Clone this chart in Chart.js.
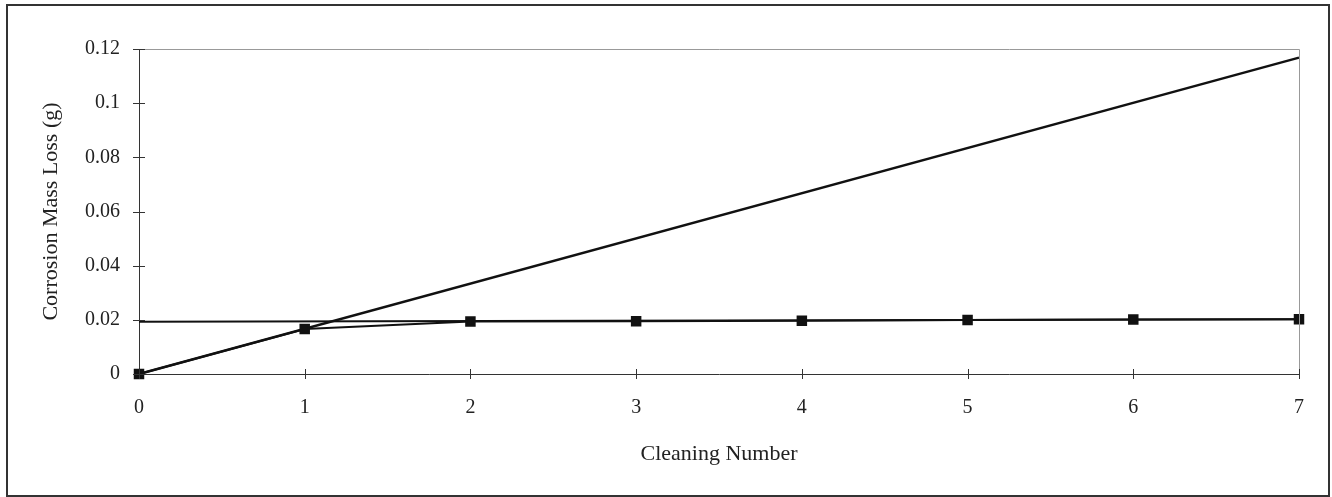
<!DOCTYPE html>
<html>
<head>
<meta charset="utf-8">
<script src="https://cdn.jsdelivr.net/npm/chart.js@4"></script>
<style>
  body { margin: 0; background: #fff; }
  #wrap { width: 1332px; height: 497px; }
</style>
</head>
<body>
<div id="wrap"><canvas id="myGraph" width="1332" height="497"></canvas></div>
<script>
const cleanings = [0, 1, 2, 3, 4, 5, 6, 7];
const massLoss = [0, 0.0166, 0.0194, 0.0195, 0.0197, 0.0199, 0.0201, 0.0202];
const flatX = [0, 7];
const flatY = [0.0193, 0.0202];
const trendX = [0, 7];
const trendY = [0, 0.1168];

const ctx = document.getElementById('myGraph');

const toPts = (xs, ys) => xs.map((x, i) => ({ x: x, y: ys[i] }));

// outer frame, plot box and ticks crossing the axes
const framePlugin = {
  id: 'frame',
  beforeDraw(chart) {
    const c = chart.ctx;
    c.save();
    c.fillStyle = '#fff';
    c.fillRect(0, 0, chart.width, chart.height);
    c.strokeStyle = '#333';
    c.lineWidth = 2;
    c.strokeRect(7, 5, 1322, 491);
    c.restore();
  },
  afterDatasetsDraw(chart) {
    const c = chart.ctx;
    const a = chart.chartArea;
    const xs = chart.scales.x, ys = chart.scales.y;
    c.save();
    c.strokeStyle = '#999';
    c.lineWidth = 1;
    c.beginPath();
    c.moveTo(a.left, a.top + 0.5);
    c.lineTo(a.right + 0.5, a.top + 0.5);
    c.lineTo(a.right + 0.5, a.bottom);
    c.stroke();
    c.strokeStyle = '#333';
    c.beginPath();
    ys.ticks.forEach(t => {
      const y = Math.round(ys.getPixelForValue(t.value)) + 0.5;
      c.moveTo(a.left - 6, y);
      c.lineTo(a.left + 6, y);
    });
    xs.ticks.forEach(t => {
      const x = Math.round(xs.getPixelForValue(t.value)) + 0.5;
      c.moveTo(x, a.bottom - 5);
      c.lineTo(x, a.bottom + 5);
    });
    c.stroke();
    c.restore();
  }
};

const data = {
  datasets: [
    {
      label: 'trend',
      data: toPts(trendX, trendY),
      borderColor: '#111',
      borderWidth: 2.5,
      pointRadius: 0,
      showLine: true,
      order: 2
    },
    {
      label: 'flat',
      data: toPts(flatX, flatY),
      borderColor: '#111',
      borderWidth: 2,
      pointRadius: 0,
      showLine: true,
      order: 3
    },
    {
      label: 'mass loss',
      data: toPts(cleanings, massLoss),
      borderColor: '#111',
      backgroundColor: '#111',
      borderWidth: 2,
      pointStyle: 'rect',
      pointRadius: 6,
      pointHoverRadius: 6,
      showLine: true,
      order: 1
    }
  ]
};

const config = {
  type: 'scatter',
  data: data,
  plugins: [framePlugin],
  options: {
    responsive: false,
    animation: false,
    clip: false,
    layout: { padding: { left: 0, right: 33, top: 49, bottom: 8 } },
    plugins: { legend: { display: false }, tooltip: { enabled: false } },
    scales: {
      x: {
        type: 'linear',
        min: 0,
        max: 7,
        afterFit(s) { s.height = 115; },
        ticks: {
          stepSize: 1,
          padding: 22,
          color: '#222',
          font: { family: 'Liberation Serif', size: 20 }
        },
        grid: { display: false, drawTicks: false },
        border: { display: true, color: '#333', width: 1 },
        title: {
          display: true,
          text: 'Cleaning Number',
          color: '#222',
          font: { family: 'Liberation Serif', size: 22 },
          padding: { top: 0, bottom: 22 }
        }
      },
      y: {
        min: 0,
        max: 0.12,
        afterFit(s) { s.width = 139; },
        ticks: {
          stepSize: 0.02,
          padding: 19,
          color: '#222',
          font: { family: 'Liberation Serif', size: 20 },
          callback: v => String(Math.round(v * 100) / 100)
        },
        grid: { display: false, drawTicks: false },
        border: { display: true, color: '#333', width: 1 },
        title: {
          display: true,
          text: 'Corrosion Mass Loss (g)',
          color: '#222',
          font: { family: 'Liberation Serif', size: 22 },
          padding: { top: 38, bottom: 0 }
        }
      }
    }
  }
};

const myChart = new Chart(ctx, config);
</script>
</body>
</html>
